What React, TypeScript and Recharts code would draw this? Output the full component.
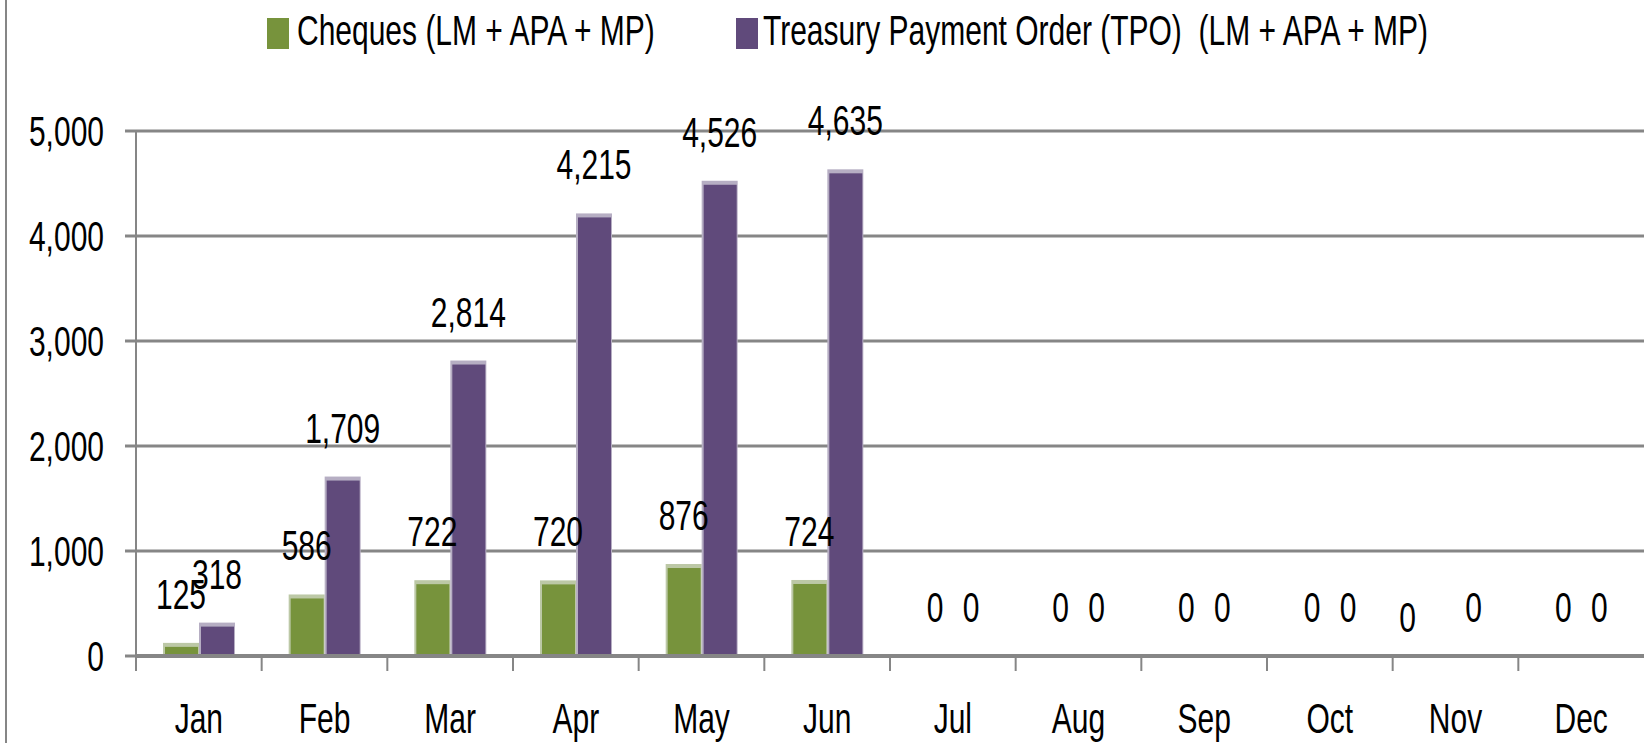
import React from 'react';
import { BarChart, Bar, XAxis, YAxis, CartesianGrid, LabelList } from 'recharts';

const months = ['Jan', 'Feb', 'Mar', 'Apr', 'May', 'Jun', 'Jul', 'Aug', 'Sep', 'Oct', 'Nov', 'Dec'];
const cheques = [125, 586, 722, 720, 876, 724, 0, 0, 0, 0, 0, 0];
const tpo = [318, 1709, 2814, 4215, 4526, 4635, 0, 0, 0, 0, 0, 0];
const yTicks = [0, 1000, 2000, 3000, 4000, 5000];

const chequesName = 'Cheques (LM + APA + MP)';
const tpoName = 'Treasury Payment Order (TPO)  (LM + APA + MP)';

const data = months.map((month, i) => ({ month, cheques: cheques[i], tpo: tpo[i] }));

const GREEN = '#77933C';
const GREEN_EDGE = '#BCC8A6';
const PURPLE = '#604A7B';
const PURPLE_EDGE = '#B6AEC3';
const GREY = '#868686';
const FONT = '"Liberation Sans", Arial, sans-serif';
// the original text is tall and narrow, so stretch it vertically
const STRETCH = 1.4;

const Stretched = ({ x, y, anchor, children }: any) => (
  <text
    transform={`translate(${x},${y}) scale(1,${STRETCH})`}
    textAnchor={anchor}
    fontFamily={FONT}
    fontSize={30}
    fill="#000"
    style={{ whiteSpace: 'pre' }}
  >
    {children}
  </text>
);

const fmt = (v: any) => Number(v).toLocaleString('en-US');

const YTick = (props: any) => {
  const { x, y, payload } = props;
  return <Stretched x={x} y={y + 15} anchor="end">{fmt(payload.value)}</Stretched>;
};

// Excel puts the tick marks between the categories
const XTick = (props: any) => {
  const { x, y, payload } = props;
  const half = payload.offset ?? 62.8;
  return (
    <g>
      <line x1={x - half} x2={x - half} y1={y - 15} y2={y} stroke={GREY} strokeWidth={2} />
      <Stretched x={x} y={y + 62} anchor="middle">{payload.value}</Stretched>
    </g>
  );
};

const bevelBar = (fill: string, edge: string) => (props: any) => {
  const { x, y, width, height } = props;
  if (!height || height <= 0) return <g />;
  const top = Math.min(4, height);
  return (
    <g>
      <rect x={x} y={y} width={width} height={height} fill={edge} />
      <rect x={x + 2} y={y + top} width={width - 3} height={height - top} fill={fill} />
    </g>
  );
};

const barLabel = (series: string) => (props: any) => {
  const { x, y, width, value, index } = props;
  // the Nov cheques label sits a little off in the original
  const moved = series === 'cheques' && index === 10;
  const dx = moved ? -30 : 0;
  const dy = moved ? 10 : 0;
  return (
    <Stretched x={Number(x) + Number(width) / 2 + dx} y={Number(y) - 34 + dy} anchor="middle">
      {fmt(value)}
    </Stretched>
  );
};

const Legend = () => (
  <svg width={1644} height={60} style={{ position: 'absolute', left: 0, top: 0 }}>
    <rect x={267} y={18} width={22} height={31} fill={GREEN} />
    <Stretched x={297} y={45} anchor="start">{chequesName}</Stretched>
    <rect x={736} y={18} width={22} height={31} fill={PURPLE} />
    <Stretched x={763} y={45} anchor="start">{tpoName}</Stretched>
  </svg>
);

const App: React.FC = () => {
  return (
    <div style={{ position: 'absolute', left: 0, top: 0, width: 1644, height: 743, background: '#fff', overflow: 'hidden' }}>
      <div style={{ position: 'absolute', left: 5, top: 0, width: 2, height: 743, background: GREY }} />
      <BarChart width={1644} height={743} data={data} margin={{ top: 131, right: 0, bottom: 0, left: 0 }} barGap={0}>
        <CartesianGrid vertical={false} stroke={GREY} strokeWidth={3} />
        <XAxis
          dataKey="month"
          height={87}
          interval={0}
          tickSize={15}
          tickMargin={0}
          tickLine={false}
          axisLine={{ stroke: GREY, strokeWidth: 4 }}
          tick={<XTick />}
        />
        <YAxis
          width={136}
          domain={[0, 5000]}
          ticks={yTicks}
          interval={0}
          tickSize={11}
          tickMargin={21}
          axisLine={{ stroke: GREY, strokeWidth: 2 }}
          tickLine={{ stroke: GREY, strokeWidth: 3 }}
          tick={<YTick />}
        />
        <Bar dataKey="cheques" name={chequesName} fill={GREEN} barSize={36} shape={bevelBar(GREEN, GREEN_EDGE)} isAnimationActive={false}>
          <LabelList dataKey="cheques" content={barLabel('cheques')} />
        </Bar>
        <Bar dataKey="tpo" name={tpoName} fill={PURPLE} barSize={36} shape={bevelBar(PURPLE, PURPLE_EDGE)} isAnimationActive={false}>
          <LabelList dataKey="tpo" content={barLabel('tpo')} />
        </Bar>
      </BarChart>
      <Legend />
    </div>
  );
};

export default App;
